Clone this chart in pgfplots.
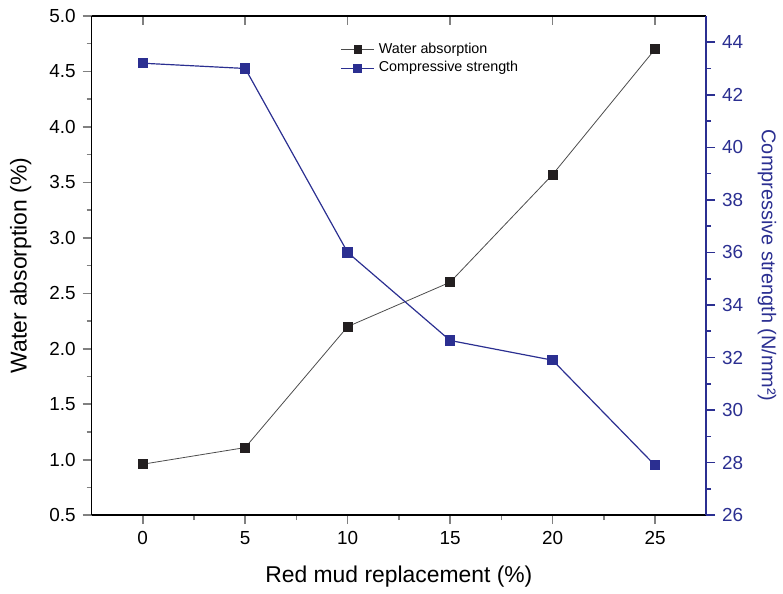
\documentclass[border=0pt]{standalone}
\usepackage{fontspec}
\setmainfont{Liberation Sans}
\usepackage{pgfplots}
\pgfplotsset{compat=1.18}

\definecolor{csblue}{RGB}{43,47,145}
\definecolor{wablack}{RGB}{35,31,32}

\pgfplotsset{
  base/.style={
    scale only axis, width=309pt, height=251pt,
    xmin=-2.5, xmax=27.5,
    /pgf/number format/assume math mode=true,
    tick label style={font=\fontsize{9.5}{11}\selectfont},
    label style={font=\fontsize{11.5}{13}\selectfont},
    axis line style={-, line width=0.9pt},
    tick style={line width=0.8pt},
    major tick length=4.5pt, minor tick length=2.5pt,
  },
  wa/.style={draw=black!70, line width=0.4pt, mark=square*, mark size=2.3pt,
    mark options={solid, draw=wablack, fill=wablack}},
  cs/.style={draw=csblue, line width=0.6pt, mark=square*, mark size=2.3pt,
    mark options={solid, draw=csblue, fill=csblue}},
}

\begin{document}
\begin{tikzpicture}
  % left axis: water absorption
  \begin{axis}[base,
      axis x line*=bottom, axis y line*=left, tick align=outside,
      clip=false,
      xtick={0,5,...,25}, minor x tick num=1,
      ymin=0.5, ymax=5, ytick={0.5,1.0,...,5.0}, minor y tick num=1,
      yticklabel style={/pgf/number format/.cd, fixed, fixed zerofill, precision=1},
      xlabel={Red mud replacement (\%)},
      ylabel={Water absorption (\%)},
      xlabel style={at={(axis description cs:0.5,-0.122)}, anchor=center},
      ylabel style={at={(axis description cs:-0.115,0.5)}, anchor=center},
    ]
    \addplot[wa] coordinates {
      (0,0.96) (5,1.11) (10,2.20) (15,2.60) (20,3.57) (25,4.70)
    };
    \path (rel axis cs:-0.1489,-0.1534) rectangle (rel axis cs:1.1181,1.0319);
  \end{axis}

  % top axis line with inward ticks
  \begin{axis}[base,
      axis x line*=top, hide y axis, tick align=inside,
      xtick={0,5,...,25}, xticklabels={}, minor x tick num=0,
      ymin=0, ymax=1,
    ]
  \end{axis}

  % right axis: compressive strength
  \begin{axis}[base,
      hide x axis, axis y line*=right, tick align=outside,
      ymin=26, ymax=45, ytick={26,28,...,44}, minor y tick num=1,
      y axis line style={csblue},
      ytick style={csblue},
      yticklabel style={csblue},
      ylabel={Compressive strength (N/mm²)},
      every axis y label/.style={at={(axis description cs:1.099,0.5)},
        rotate=-90, anchor=center, color=csblue},
      legend style={draw=none, fill=none, inner sep=0pt,
        at={(axis description cs:0.405,0.955)}, anchor=north west,
        font=\fontsize{7.2}{8}\selectfont, row sep=-1.3pt,
        cells={anchor=west}},
      legend image code/.code={
        \draw[mark repeat=2, mark phase=2, mark size=2pt, #1]
          plot coordinates {(0cm,0cm) (0.29cm,0cm) (0.58cm,0cm)};},
    ]
    \addlegendimage{wa}
    \addlegendentry{Water absorption}
    \addplot[cs] coordinates {
      (0,43.2) (5,43.0) (10,36.0) (15,32.65) (20,31.9) (25,27.9)
    };
    \addlegendentry{Compressive strength}
  \end{axis}
\end{tikzpicture}
\end{document}
